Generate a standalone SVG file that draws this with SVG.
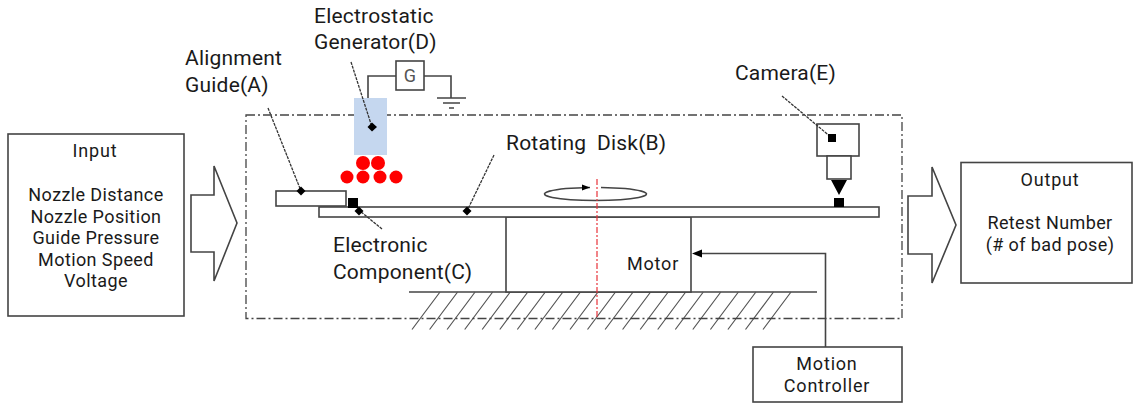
<svg xmlns="http://www.w3.org/2000/svg" width="1139" height="403" viewBox="0 0 1139 403">
<style>
text{font-family:Roboto,"Noto Sans","DejaVu Sans",sans-serif;font-size:18px;fill:#1a1a1a}
.c{text-anchor:middle}
.s{letter-spacing:.4px}
.t{letter-spacing:.8px}
.big{font-size:21px;letter-spacing:.2px}
.b{fill:#fff;stroke:#444;stroke-width:1.6}
.l{fill:none;stroke:#444;stroke-width:1.6}
.lead{fill:none;stroke:#333;stroke-width:1.3;stroke-dasharray:3 1}
.d{fill:#000}
</style>
<rect width="1139" height="403" fill="#fff"/>
<g id="ground"><path class="l" d="M409 292H817"/><path fill="none" stroke="#555" stroke-width="1.2" d="M412 329.500l28-37.500M429.600 329.500l28-37.500M447.100 329.500l28-37.500M464.700 329.500l28-37.500M482.200 329.500l28-37.500M499.800 329.500l28-37.500M517.300 329.500l28-37.500M534.900 329.500l28-37.500M552.400 329.500l28-37.500M570 329.500l28-37.500M587.500 329.500l28-37.500M605.100 329.500l28-37.500M622.600 329.500l28-37.500M640.200 329.500l28-37.500M657.700 329.500l28-37.500M675.300 329.500l28-37.500M692.800 329.500l28-37.500M710.400 329.500l28-37.500M727.900 329.500l28-37.500M745.500 329.500l28-37.500M763 329.500l28-37.500"/></g>
<g id="boundary"><rect x="246" y="115" width="656" height="203.500" fill="none" stroke="#444" stroke-width="1.3" stroke-dasharray="9 3 2 3"/></g>
<g id="input"><rect class="b" x="8" y="134" width="176" height="182"/>
<text class="c t" x="95" y="157">Input</text>
<g class="s"><text class="c" x="96" y="201">Nozzle Distance</text><text class="c" x="96" y="222.500">Nozzle Position</text><text class="c" x="96" y="244">Guide Pressure</text><text class="c" x="96" y="265.500">Motion Speed</text><text class="c" x="96" y="287">Voltage</text></g></g>
<g id="arrow-in"><path class="b" d="M191 195H214V166L237 223L214 281V252H191Z"/></g>
<g id="arrow-out"><path class="b" d="M908 196H932V167L956 225L932 283V254H908Z"/></g>
<g id="output"><rect class="b" x="961" y="162.500" width="171" height="120.500"/>
<text class="c t" x="1050" y="185.500">Output</text><text class="c s" x="1050" y="229">Retest Number</text><text class="c s" x="1050" y="250.500">(# of bad pose)</text></g>
<g id="motor"><rect class="b" x="506" y="217" width="185" height="75"/><text class="c t" x="653" y="270">Motor</text></g>
<g id="disk"><rect class="b" x="319" y="207" width="560" height="10"/></g>
<g id="rotation"><path class="l" stroke-width="1.2" d="M601 187.500A51 6.500 0 1 1 590 187.500"/><path class="d" d="M590 187.500L582 184.500V190.500Z"/><path d="M597 179V318" fill="none" stroke="#e8333a" stroke-width="1.2" stroke-dasharray="6 2 2 2"/></g>
<g id="guide"><rect class="b" x="276" y="191" width="70" height="15"/><text class="big" x="185" y="65">Alignment</text><text class="big" x="185" y="92">Guide(A)</text></g>
<g id="generator"><rect x="354" y="98" width="33" height="57" fill="#c5d7ef"/>
<circle cx="363" cy="163" r="7" fill="#f00"/><circle cx="378" cy="163" r="7" fill="#f00"/><circle cx="347" cy="177" r="6.500" fill="#f00"/><circle cx="363" cy="177" r="6.500" fill="#f00"/><circle cx="380" cy="177" r="6.500" fill="#f00"/><circle cx="396" cy="177" r="6.500" fill="#f00"/>
<path class="l" d="M368 98V76H396M424 76H451V98M437 98H466M443 103H460M449 108H454"/><rect class="b" x="396" y="61" width="28" height="29"/><text class="c" x="410" y="82" style="font-size:18px;fill:#555">G</text>
<text class="big" x="314" y="23">Electrostatic</text><text class="big" x="314" y="49">Generator(D)</text></g>
<g id="component"><rect class="d" x="348" y="198" width="10" height="10"/><text class="big" x="333" y="252">Electronic</text><text class="big" x="333" y="279">Component(C)</text></g>
<g id="disk-label"><text class="big" x="506" y="150">Rotating&#160; Disk(B)</text></g>
<g id="camera"><rect class="b" x="817" y="124" width="42" height="32"/><rect class="b" x="827" y="156" width="24" height="23"/><path class="d" d="M831 180H847L839 195Z"/><rect class="d" x="834" y="198" width="10" height="9"/><text class="big" x="735" y="80">Camera(E)</text></g>
<g id="controller"><rect class="b" x="753" y="347" width="149" height="55"/><text class="c t" x="827" y="369.500">Motion</text><text class="c t" x="827" y="392">Controller</text></g>
<g id="connectors">
<path class="l" d="M825.500 347V253.500H700"/><path class="d" d="M692 253.500L702 249.500V257.500Z"/>
<path class="lead" d="M268 108L301 191"/><path class="d" d="M301 186.500L305.500 191L301 195.500L296.500 191Z"/>
<path class="lead" d="M351 62L372 127"/><path class="d" d="M372 122.500L377 127L372 131.500L367.500 127Z"/>
<path class="lead" d="M382 229L360 211"/><path class="d" d="M359 206.500L363.500 211L359 215.500L354.500 211Z"/>
<path class="lead" d="M494 155L467 211"/><path class="d" d="M467 206.500L471.500 211L467 215.500L462.500 211Z"/>
<path class="lead" d="M782 96L832 138"/><rect class="d" x="828" y="134" width="8" height="8"/>
</g>
</svg>
